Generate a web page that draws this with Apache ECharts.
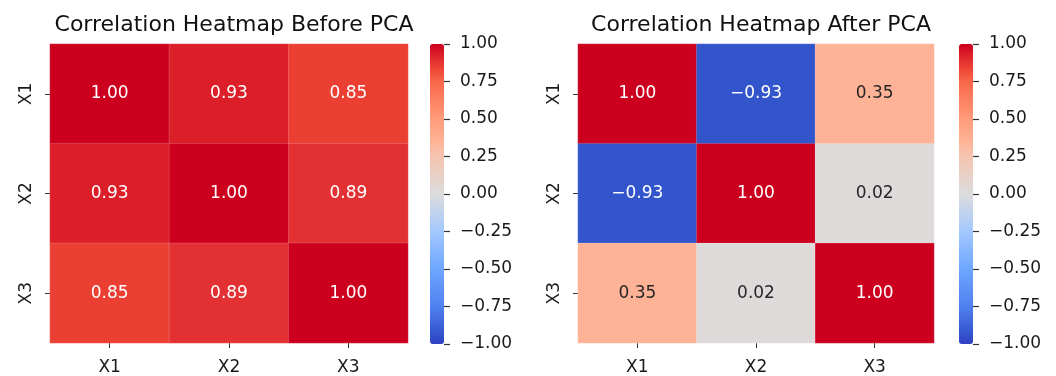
<!DOCTYPE html>
<html>
<head>
<meta charset="utf-8">
<script src="https://cdn.jsdelivr.net/npm/echarts@6/dist/echarts.min.js"></script>
<style>html,body{margin:0;padding:0;background:#fff;}#c{width:1056px;height:376px;}</style>
</head>
<body>
<div id="c"></div>
<script>
const categories = ['X1', 'X2', 'X3'];
const titles = ['Correlation Heatmap Before PCA', 'Correlation Heatmap After PCA'];
const corrBefore = [
  [1.00, 0.93, 0.85],
  [0.93, 1.00, 0.89],
  [0.85, 0.89, 1.00]
];
const corrAfter = [
  [1.00, -0.93, 0.35],
  [-0.93, 1.00, 0.02],
  [0.35, 0.02, 1.00]
];
const colorbarTicks = [-1, -0.75, -0.5, -0.25, 0, 0.25, 0.5, 0.75, 1];

const anchors = [
  [-1.0, [48, 64, 196]],
  [-0.93, [51, 85, 204]],
  [-0.75, [80, 128, 240]],
  [-0.5, [110, 166, 255]],
  [-0.25, [163, 200, 255]],
  [0.0, [220, 220, 220]],
  [0.02, [222, 218, 217]],
  [0.25, [245, 196, 176]],
  [0.35, [255, 179, 150]],
  [0.5, [255, 156, 124]],
  [0.75, [248, 103, 72]],
  [0.85, [236, 63, 51]],
  [0.89, [227, 48, 50]],
  [0.93, [220, 30, 40]],
  [1.0, [204, 0, 30]]
];
function cmap(v) {
  for (let i = 0; i < anchors.length - 1; i++) {
    const [a, ca] = anchors[i], [b, cb] = anchors[i + 1];
    if (v >= a && v <= b) {
      const t = (v - a) / (b - a);
      const c = ca.map((x, k) => Math.round(x + (cb[k] - x) * t));
      return 'rgb(' + c.join(',') + ')';
    }
  }
  return v < 0 ? 'rgb(48,64,196)' : 'rgb(204,0,30)';
}
const palette = [];
for (let i = 0; i <= 200; i++) palette.push(cmap(-1 + i * 0.01));

function fmt(v) { return v.toFixed(2).replace('-', '\u2212'); }
function toData(m) {
  const out = [];
  m.forEach((row, r) => row.forEach((v, c) => {
    out.push({
      value: [c, r, v],
      label: { color: Math.abs(v) < 0.6 ? '#262626' : '#ffffff' }
    });
  }));
  return out;
}

const font = 'DejaVu Sans';
const layouts = [
  { left: 50, width: 358, cb: 430 },
  { left: 578, width: 356, cb: 959 }
];
const gTop = 44, gHeight = 300, cbW = 14;

const grid = [], xAxis = [], yAxis = [], series = [], visualMap = [], title = [];
layouts.forEach((L, i) => {
  grid.push({ left: L.left, top: gTop, width: L.width, height: gHeight });
  grid.push({ left: L.cb + cbW, top: gTop, width: 10, height: gHeight });
  title.push({
    text: titles[i], left: L.left + L.width / 2, top: 9, textAlign: 'center',
    textStyle: { fontFamily: font, fontSize: 22, fontWeight: 'normal', color: '#111' }
  });
  xAxis.push({
    type: 'category', data: categories, gridIndex: 2 * i,
    axisLine: { show: false },
    axisTick: { show: true, alignWithLabel: true, length: 5, lineStyle: { color: '#333' } },
    axisLabel: { fontFamily: font, fontSize: 17, color: '#1a1a1a', margin: 16 },
    splitLine: { show: false }
  });
  yAxis.push({
    type: 'category', data: categories, gridIndex: 2 * i, inverse: true,
    axisLine: { show: false },
    axisTick: { show: true, alignWithLabel: true, length: 5, lineStyle: { color: '#333' } },
    axisLabel: { fontFamily: font, fontSize: 17, color: '#1a1a1a', rotate: 90, margin: 15 },
    splitLine: { show: false }
  });
  xAxis.push({ type: 'category', data: ['c'], gridIndex: 2 * i + 1, show: false });
  yAxis.push({
    type: 'value', gridIndex: 2 * i + 1, position: 'left', min: -1, max: 1, interval: 0.25,
    axisLine: { show: false },
    axisTick: { show: true, inside: true, length: 6, lineStyle: { color: '#333', width: 1.2 } },
    axisLabel: {
      show: true, inside: true, fontFamily: font, fontSize: 17, color: '#1a1a1a', margin: 16,
      formatter: v => colorbarTicks.includes(v) ? fmt(v) : ''
    },
    splitLine: { show: false }
  });
  series.push({
    type: 'heatmap', xAxisIndex: 2 * i, yAxisIndex: 2 * i,
    data: toData(i === 0 ? corrBefore : corrAfter),
    label: { show: true, fontFamily: font, fontSize: 17, formatter: p => fmt(p.value[2]) },
    itemStyle: { borderWidth: 0.6, borderColor: 'rgba(255,255,255,0.25)' },
    emphasis: { disabled: true }
  });
  visualMap.push({
    type: 'continuous', seriesIndex: i, min: -1, max: 1, dimension: 2,
    left: L.cb, top: gTop, itemWidth: cbW, itemHeight: gHeight, padding: 0,
    calculable: false, realtime: false, hoverLink: false,
    inRange: { color: palette }, textStyle: { fontSize: 0 }
  });
});

const chart = echarts.init(document.getElementById('c'), null, { renderer: 'canvas' });
chart.setOption({
  backgroundColor: '#ffffff',
  animation: false,
  title, grid, xAxis, yAxis, series, visualMap
});
</script>
</body>
</html>
